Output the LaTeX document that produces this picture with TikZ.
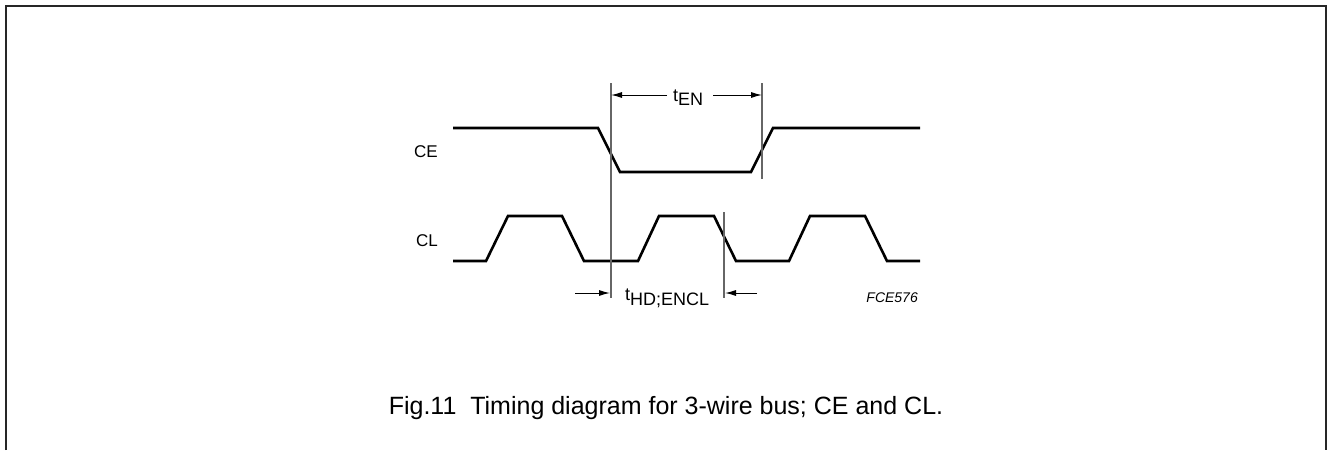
\documentclass[tikz,border=0pt]{standalone}
\usepackage{fontspec}
\setmainfont{Liberation Sans}
\usetikzlibrary{arrows.meta}
\begin{document}
\begin{tikzpicture}[x=1pt,y=-1pt,
  sig/.style={line width=2.6pt, line join=miter},
  guide/.style={line width=1.1pt, draw=black!60},
  dim/.style={line width=1pt, -{Latex[length=11pt,width=6pt]}},
  lbl/.style={font=\fontsize{17}{20}\selectfont, inner sep=0pt},
  tlbl/.style={font=\fontsize{18}{20}\selectfont, inner sep=0pt},
  codelbl/.style={font=\fontsize{14}{16}\selectfont\itshape, inner sep=0pt},
  captext/.style={font=\fontsize{25}{28}\selectfont, inner sep=0pt}]
\useasboundingbox (0,0) rectangle (1327,450);
\draw[line width=2pt, black!85] (6,450) -- (6,6) -- (1326,6) -- (1326,450);

% signals
\draw[sig] (453,128) -- (598,128) -- (620,172) -- (751,172) -- (773,128) -- (920,128);
\draw[sig] (453,261) -- (486,261) -- (508,216) -- (562,216) -- (584,261) -- (638,261)
  -- (659,216) -- (714,216) -- (736,261) -- (789,261) -- (810,216) -- (865,216)
  -- (887,261) -- (920,261);

% guide lines
\coordinate (g1t) at (611,83);  \coordinate (g1b) at (611,298);
\coordinate (g2t) at (762,83);  \coordinate (g2b) at (762,179);
\coordinate (g3t) at (724,212); \coordinate (g3b) at (724,298);
\draw[guide] (g1t) -- (g1b);
\draw[guide] (g2t) -- (g2b);
\draw[guide] (g3t) -- (g3b);

% t_EN
\coordinate (en1) at (667,95); \coordinate (en1e) at (611,95);
\coordinate (en2) at (713,95); \coordinate (en2e) at (762,95);
\draw[dim] (en1) -- (en1e);
\draw[dim] (en2) -- (en2e);
\node[tlbl, anchor=base west] (ten) at (673,101) {t\raisebox{-4pt}{EN}};

% t_HD;ENCL
\coordinate (hd1) at (575,293); \coordinate (hd1e) at (610,293);
\coordinate (hd2) at (757,293); \coordinate (hd2e) at (725,293);
\draw[dim] (hd1) -- (hd1e);
\draw[dim] (hd2) -- (hd2e);
\node[tlbl, anchor=base west] (thd) at (625,300) {t\raisebox{-5pt}{HD;ENCL}};

% labels
\node[lbl, anchor=base east] (ce) at (438,157) {CE};
\node[lbl, anchor=base east] (cl) at (438,246) {CL};
\node[codelbl, anchor=base east] (fce) at (918,302) {FCE576};
\node[captext, anchor=base] (caption) at (666,414) {Fig.11~~Timing diagram for 3-wire bus; CE and CL.};
\end{tikzpicture}
\end{document}
